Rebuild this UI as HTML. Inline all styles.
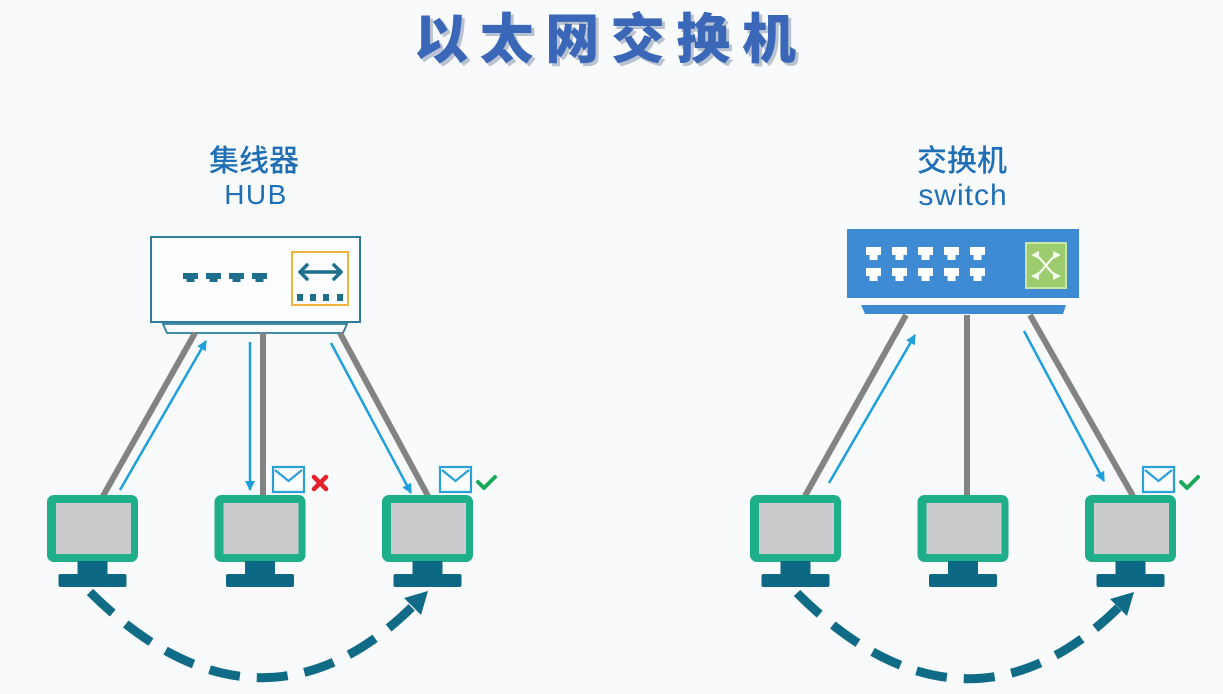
<!DOCTYPE html>
<html><head><meta charset="utf-8"><style>
html,body{margin:0;padding:0;background:#f9fafb;}
svg{display:block;}
</style></head><body>
<svg width="1223" height="694" viewBox="0 0 1223 694" xmlns="http://www.w3.org/2000/svg">
<defs>
<marker id="ba" markerUnits="userSpaceOnUse" markerWidth="12" markerHeight="12" refX="9" refY="5" orient="auto"><path d="M0,0 L10,5 L0,10 z" fill="#1e9fdc"/></marker>
<marker id="wa" markerUnits="userSpaceOnUse" markerWidth="9" markerHeight="9" refX="6" refY="4" orient="auto"><path d="M0,0 L8,4 L0,8 z" fill="#f4faf0"/></marker>
<g id="mon">
<rect x="-45.5" y="495" width="91" height="67" rx="7" fill="#1fae8a"/>
<rect x="-36.5" y="503" width="75" height="51" fill="#c9cbcd"/>
<rect x="-15" y="561" width="30" height="14" fill="#0d6886"/>
<rect x="-34" y="574" width="68" height="13" rx="2" fill="#0d6886"/>
</g>
<g id="env">
<rect x="0" y="0" width="31" height="25" fill="#fbfdfe" stroke="#2a9fd8" stroke-width="2.2"/>
<polyline points="2,3 15.5,14 29,3" fill="none" stroke="#2a9fd8" stroke-width="2.2"/>
</g>
<g id="hp"><rect x="0" y="0" width="15" height="6" fill="#1e6e8e"/><rect x="3.5" y="5" width="8" height="4" fill="#1e6e8e"/></g>
<g id="sp"><rect x="0" y="0" width="15" height="8" fill="#ffffff"/><rect x="3.5" y="7" width="8" height="6" fill="#ffffff"/></g>
</defs>

<!-- Title -->
<text x="417" y="61" font-family="'Noto Sans CJK SC','WenQuanYi Zen Hei',sans-serif" font-weight="900" font-size="54" fill="#b9c2d0" textLength="382" lengthAdjust="spacing">以太网交换机</text>
<text x="414" y="58" font-family="'Noto Sans CJK SC','WenQuanYi Zen Hei',sans-serif" font-weight="900" font-size="54" fill="#3a67b7" textLength="382" lengthAdjust="spacing">以太网交换机</text>

<!-- Labels -->
<g font-family="'Liberation Sans','Noto Sans CJK SC',sans-serif" fill="#1f6fb6" text-anchor="middle" font-weight="500">
<text x="254" y="171" font-size="30">集线器</text>
<text x="256" y="204" font-size="28" letter-spacing="1.5">HUB</text>
<text x="962" y="171" font-size="30">交换机</text>
<text x="963" y="205" font-size="30" letter-spacing="1">switch</text>
</g>

<!-- HUB device -->
<rect x="151" y="237" width="209" height="85" fill="#fcfdfe" stroke="#2d7d9a" stroke-width="2"/>
<polygon points="163,324 347,324 343,333 167,333" fill="#fcfdfe" stroke="#2d7d9a" stroke-width="1.8"/>
<use href="#hp" x="183" y="273"/>
<use href="#hp" x="206" y="273"/>
<use href="#hp" x="229" y="273"/>
<use href="#hp" x="252" y="273"/>
<rect x="292" y="252" width="56" height="53" fill="none" stroke="#f0b43c" stroke-width="2"/>
<g stroke="#1e6e8e" stroke-width="3.5" fill="none" stroke-linecap="round" stroke-linejoin="round">
<line x1="300" y1="272" x2="341" y2="272"/>
<polyline points="307,265 300,272 307,279"/>
<polyline points="334,265 341,272 334,279"/>
</g>
<rect x="297" y="294" width="6" height="7" fill="#1e6e8e"/>
<rect x="310" y="294" width="6" height="7" fill="#1e6e8e"/>
<rect x="323" y="294" width="6" height="7" fill="#1e6e8e"/>
<rect x="337" y="294" width="6" height="7" fill="#1e6e8e"/>

<!-- HUB cables -->
<g stroke="#838383" stroke-width="6" stroke-linecap="butt">
<line x1="195" y1="333" x2="103" y2="496"/>
<line x1="263" y1="333" x2="263" y2="496"/>
<line x1="340" y1="333" x2="428" y2="496"/>
</g>
<g stroke="#1e9fdc" stroke-width="2.5" fill="none">
<line x1="120" y1="490" x2="206" y2="341" marker-end="url(#ba)"/>
<line x1="250" y1="342" x2="250" y2="490" marker-end="url(#ba)"/>
<line x1="331" y1="343" x2="411" y2="493" marker-end="url(#ba)"/>
</g>

<!-- SWITCH device -->
<rect x="847" y="229" width="232" height="69" fill="#3f8bd3"/>
<polygon points="861,305 1066,305 1063,314 865,314" fill="#3f8bd3"/>
<use href="#sp" x="866" y="247"/><use href="#sp" x="892" y="247"/><use href="#sp" x="918" y="247"/><use href="#sp" x="944" y="247"/><use href="#sp" x="970" y="247"/>
<use href="#sp" x="866" y="268"/><use href="#sp" x="892" y="268"/><use href="#sp" x="918" y="268"/><use href="#sp" x="944" y="268"/><use href="#sp" x="970" y="268"/>
<rect x="1026" y="243" width="40" height="45" fill="#9ccc6e" stroke="#c8e6a8" stroke-width="2"/>
<g stroke="#f4faf0" stroke-width="2" fill="none">
<path d="M1033,255 C1042,255 1050,276 1059,276" marker-end="url(#wa)"/>
<path d="M1033,276 C1042,276 1050,255 1059,255" marker-end="url(#wa)"/>
<path d="M1059,276 C1050,276 1042,255 1033,255" marker-end="url(#wa)"/>
<path d="M1059,255 C1050,255 1042,276 1033,276" marker-end="url(#wa)"/>
</g>

<!-- SWITCH cables -->
<g stroke="#838383" stroke-width="6">
<line x1="906" y1="315" x2="805" y2="496"/>
<line x1="967" y1="315" x2="967" y2="496"/>
<line x1="1030" y1="315" x2="1133" y2="496"/>
</g>
<g stroke="#1e9fdc" stroke-width="2.5" fill="none">
<line x1="829" y1="483" x2="915" y2="335" marker-end="url(#ba)"/>
<line x1="1024" y1="331" x2="1104" y2="481" marker-end="url(#ba)"/>
</g>

<!-- Monitors -->
<use href="#mon" x="92.5" y="0"/>
<use href="#mon" x="260" y="0"/>
<use href="#mon" x="427.5" y="0"/>
<use href="#mon" x="795.5" y="0"/>
<use href="#mon" x="963" y="0"/>
<use href="#mon" x="1130.5" y="0"/>

<!-- Envelopes and marks -->
<use href="#env" x="273" y="467"/>
<use href="#env" x="440" y="467"/>
<use href="#env" x="1143" y="467"/>
<g stroke="#e5202a" stroke-width="4.5" stroke-linecap="round">
<line x1="314" y1="477" x2="326" y2="489"/>
<line x1="326" y1="477" x2="314" y2="489"/>
</g>
<polyline points="478,482 484,488 495,477" fill="none" stroke="#1aa85a" stroke-width="4" stroke-linecap="round" stroke-linejoin="round"/>
<polyline points="1181,482 1187,488 1198,477" fill="none" stroke="#1aa85a" stroke-width="4" stroke-linecap="round" stroke-linejoin="round"/>

<!-- Dashed arcs -->
<path d="M90,592 C202,704 315,704 414,605" fill="none" stroke="#0f6b86" stroke-width="9" stroke-dasharray="31 17"/>
<polygon points="428,591 421,615 404,598" fill="#0f6b86"/>
<path d="M797,593 C909,705 1021,705 1120,606" fill="none" stroke="#0f6b86" stroke-width="9" stroke-dasharray="31 17"/>
<polygon points="1134,592 1127,616 1110,599" fill="#0f6b86"/>
</svg>
</body></html>
